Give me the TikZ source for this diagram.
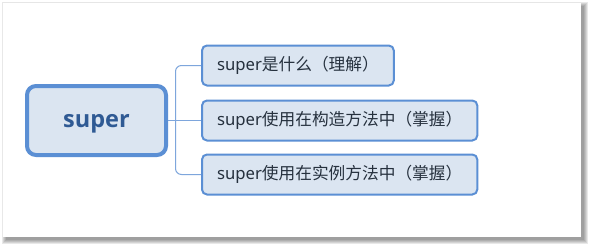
\documentclass[tikz,border=0pt]{standalone}
\usepackage{fontspec}
\setmainfont{Noto Sans}
\newfontfamily\cjk{Noto Sans CJK SC}
\newfontfamily\rootfont{Open Sans}
\usepackage{tikz}

\definecolor{boxline}{HTML}{5B8FD4}
\definecolor{boxfill}{HTML}{DBE5F1}
\definecolor{linkline}{HTML}{7EA6DC}
\definecolor{roottext}{HTML}{2F5A94}
\definecolor{leaftext}{HTML}{26313E}
\definecolor{paneledge}{HTML}{E6E6E6}

\begin{document}
\begin{tikzpicture}[x=1pt,y=-1pt,
	rootbox/.style={draw=boxline, fill=boxfill, line width=4pt, rounded corners=9pt,
		minimum width=139pt, minimum height=69pt, inner sep=0pt, text depth=0pt,
		text=roottext, font=\rootfont\fontsize{23.5}{27}\selectfont\bfseries},
	leafbox/.style={draw=boxline, fill=boxfill, line width=2pt, rounded corners=5pt,
		anchor=west, inner xsep=15pt, inner ysep=0pt, minimum height=40pt,
		text=leaftext, font=\fontsize{16.7}{20}\selectfont},
	link/.style={draw=linkline, line width=1pt}]
	\useasboundingbox (0,0) rectangle (591,249);
	%\draw[help lines] (0,0) grid[step=50] (591,249);
	% panel with its drop shadow
	\foreach \s in {4,3,2,1,0}
		\fill[black, opacity=.09] (6-\s,6-\s) rectangle (584+\s,240+\s);
	\fill[white] (3,2) rectangle (580.5,237);
	\draw[paneledge, line width=.5pt] (3,2) -- (580.5,2);
	% root and its three topics
	\node[rootbox] (root) at (96.5,120.5) {super};
	\node[leafbox] (what) at (201,65.5) {super{\cjk 是什么（理解）}};
	\node[leafbox] (ctor) at (201,120.5) {super{\cjk 使用在构造方法中（掌握）}};
	\node[leafbox] (inst) at (201,174.5) {super{\cjk 使用在实例方法中（掌握）}};
	\coordinate (fork) at (175.5,120.5);
	\draw[link] (root.east) -- (ctor.west);
	\draw[link, rounded corners=6pt] (what.west) -| (fork) |- (inst.west);
\end{tikzpicture}
\end{document}
